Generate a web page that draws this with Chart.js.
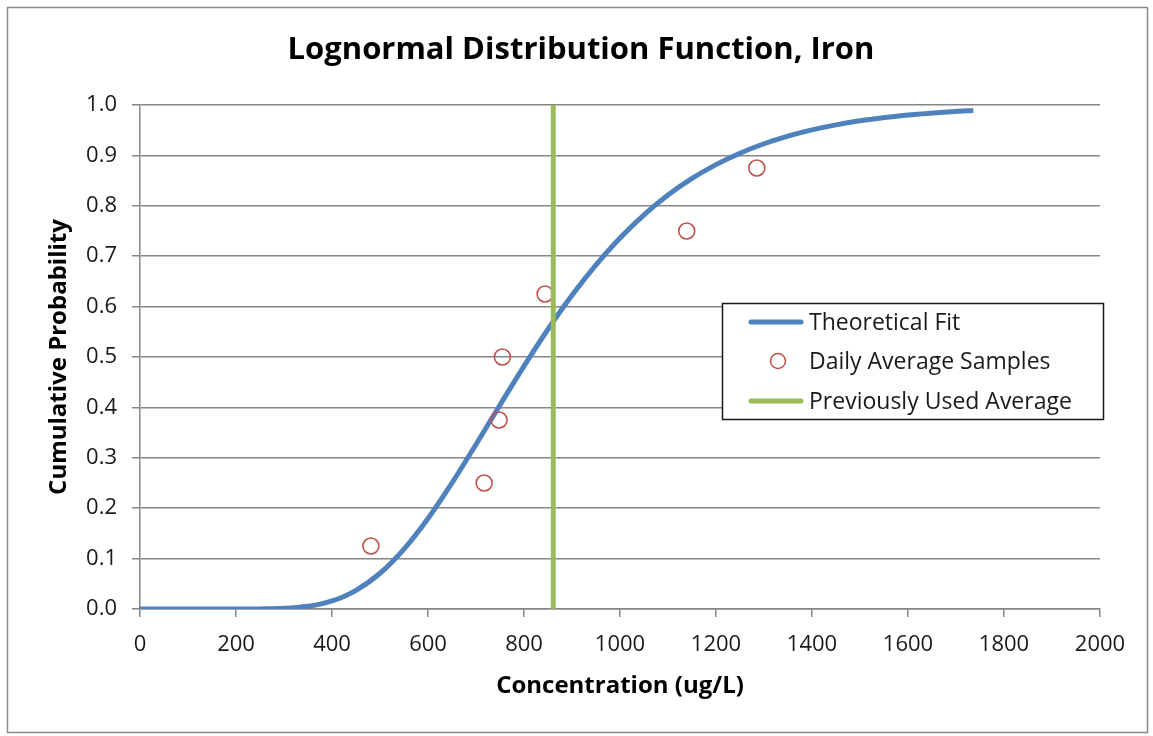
<!DOCTYPE html>
<html>
<head>
<meta charset="utf-8">
<script src="https://cdn.jsdelivr.net/npm/chart.js@4.4.0/dist/chart.umd.min.js"></script>
<style>
html,body{margin:0;padding:0;background:#fff;}
#wrap{width:1153px;height:736px;position:relative;}
</style>
</head>
<body>
<div id="wrap"><canvas id="c" width="1153" height="736"></canvas></div>
<script>
// ---- data ----
const chartTitle = 'Lognormal Distribution Function, Iron';
const xAxisTitle = 'Concentration (ug/L)';
const yAxisTitle = 'Cumulative Probability';
const seriesNames = ['Theoretical Fit', 'Daily Average Samples', 'Previously Used Average'];

const fitX = [0, 100, 200, 250, 300, 350, 375, 400, 425, 450, 500, 550, 600, 650, 700, 750, 800, 850, 900, 950, 1000, 1050, 1100, 1150, 1200, 1250, 1300, 1350, 1400, 1450, 1500, 1600, 1700, 1736];
const fitY = [0, 0, 0, 0.0002, 0.0013, 0.0054, 0.0096, 0.016, 0.0249, 0.0368, 0.0709, 0.1189, 0.1796, 0.2501, 0.3265, 0.4049, 0.482, 0.5551, 0.6224, 0.6829, 0.736, 0.782, 0.8212, 0.8542, 0.8817, 0.9044, 0.9231, 0.9383, 0.9506, 0.9605, 0.9686, 0.9801, 0.9874, 0.9893];

const sampleX = [481, 717, 748, 755, 844, 1139, 1285];
const sampleY = [0.125, 0.25, 0.375, 0.5, 0.625, 0.75, 0.875];

const avgX = [861, 861];
const avgY = [0, 1];

const xTicks = [0, 200, 400, 600, 800, 1000, 1200, 1400, 1600, 1800, 2000];
const yTicks = [0, 0.1, 0.2, 0.3, 0.4, 0.5, 0.6, 0.7, 0.8, 0.9, 1.0];

const colors = {fit: '#4F81BD', sample: '#C0504D', avg: '#9BBB59', grid: '#868686', text: '#1a1a1a'};

const toPts = (xs, ys) => xs.map((x, i) => ({x: x, y: ys[i]}));

const decor = {
  id: 'decor',
  beforeDraw(chart) {
    const ctx = chart.ctx;
    ctx.save();
    ctx.fillStyle = '#fff';
    ctx.fillRect(0, 0, chart.width, chart.height);
    ctx.strokeStyle = '#8a8a8a';
    ctx.lineWidth = 1.5;
    ctx.strokeRect(7.5, 7.5, 1140, 725);
    ctx.restore();
  },
  afterDraw(chart) {
    const ctx = chart.ctx;
    ctx.save();
    // title
    ctx.fillStyle = '#000';
    ctx.font = 'bold 31px "Open Sans"';
    ctx.textAlign = 'center';
    ctx.textBaseline = 'middle';
    ctx.fillText(chartTitle, 581, 50);
    // legend
    const bx = 722.5, by = 303.5, bw = 381, bh = 116;
    ctx.fillStyle = '#fff';
    ctx.fillRect(bx, by, bw, bh);
    ctx.strokeStyle = '#1a1a1a';
    ctx.lineWidth = 1.5;
    ctx.strokeRect(bx, by, bw, bh);
    const rows = [322, 361, 401];
    const ds = chart.data.datasets;
    ctx.font = '23px "Open Sans"';
    ctx.textAlign = 'left';
    ds.forEach((d, i) => {
      const y = rows[i];
      if (d.showLine) {
        ctx.strokeStyle = d.borderColor;
        ctx.lineWidth = 5;
        ctx.lineCap = 'round';
        ctx.beginPath();
        ctx.moveTo(751, y);
        ctx.lineTo(801, y);
        ctx.stroke();
      } else {
        ctx.strokeStyle = d.borderColor;
        ctx.lineWidth = 1.5;
        ctx.beginPath();
        ctx.arc(778, y, 7.5, 0, Math.PI * 2);
        ctx.stroke();
      }
      ctx.fillStyle = colors.text;
      ctx.fillText(d.label, 809, y + 1);
    });
    ctx.restore();
  }
};

new Chart(document.getElementById('c'), {
  type: 'scatter',
  data: {
    datasets: [
      {
        label: seriesNames[0],
        data: toPts(fitX, fitY),
        showLine: true,
        borderColor: colors.fit,
        backgroundColor: colors.fit,
        borderWidth: 5,
        pointRadius: 0,
        cubicInterpolationMode: 'monotone',
        order: 3
      },
      {
        label: seriesNames[1],
        data: toPts(sampleX, sampleY),
        showLine: false,
        borderColor: colors.sample,
        backgroundColor: 'rgba(0,0,0,0)',
        pointStyle: 'circle',
        pointRadius: 8,
        pointBorderWidth: 1.6,
        order: 2
      },
      {
        label: seriesNames[2],
        data: toPts(avgX, avgY),
        showLine: true,
        borderColor: colors.avg,
        backgroundColor: colors.avg,
        borderWidth: 5,
        pointRadius: 0,
        order: 1
      }
    ]
  },
  options: {
    responsive: false,
    animation: false,
    layout: {padding: {left: 0, right: 53, top: 105, bottom: 0}},
    plugins: {legend: {display: false}, title: {display: false}, tooltip: {enabled: false}},
    scales: {
      x: {
        type: 'linear',
        min: 0, max: 2000,
        afterBuildTicks(s) { s.ticks = xTicks.map(v => ({value: v})); },
        afterFit(s) { s.height = 127; },
        ticks: {
          padding: 15,
          color: colors.text,
          font: {family: 'Open Sans', size: 22},
          maxRotation: 0,
          callback: v => String(v)
        },
        grid: {drawOnChartArea: false, drawTicks: true, tickLength: 8, color: colors.grid, lineWidth: 1.5},
        border: {display: true, color: colors.grid, width: 1.5},
        title: {
          display: true,
          text: xAxisTitle,
          color: '#000',
          font: {family: 'Open Sans', size: 24, weight: 'bold'},
          padding: {top: 0, bottom: 35}
        }
      },
      y: {
        type: 'linear',
        min: 0, max: 1,
        afterBuildTicks(s) { s.ticks = yTicks.map(v => ({value: v})); },
        afterFit(s) { s.width = 140; },
        ticks: {
          padding: 15,
          color: colors.text,
          font: {family: 'Open Sans', size: 22},
          callback: v => Number(v).toFixed(1)
        },
        grid: {drawOnChartArea: true, drawTicks: true, tickLength: 8, color: colors.grid, lineWidth: 1.5},
        border: {display: true, color: colors.grid, width: 1.5},
        title: {
          display: true,
          text: yAxisTitle,
          color: '#000',
          font: {family: 'Open Sans', size: 24, weight: 'bold'},
          padding: {top: 45, bottom: 0}
        }
      }
    }
  },
  plugins: [decor]
});
</script>
</body>
</html>
